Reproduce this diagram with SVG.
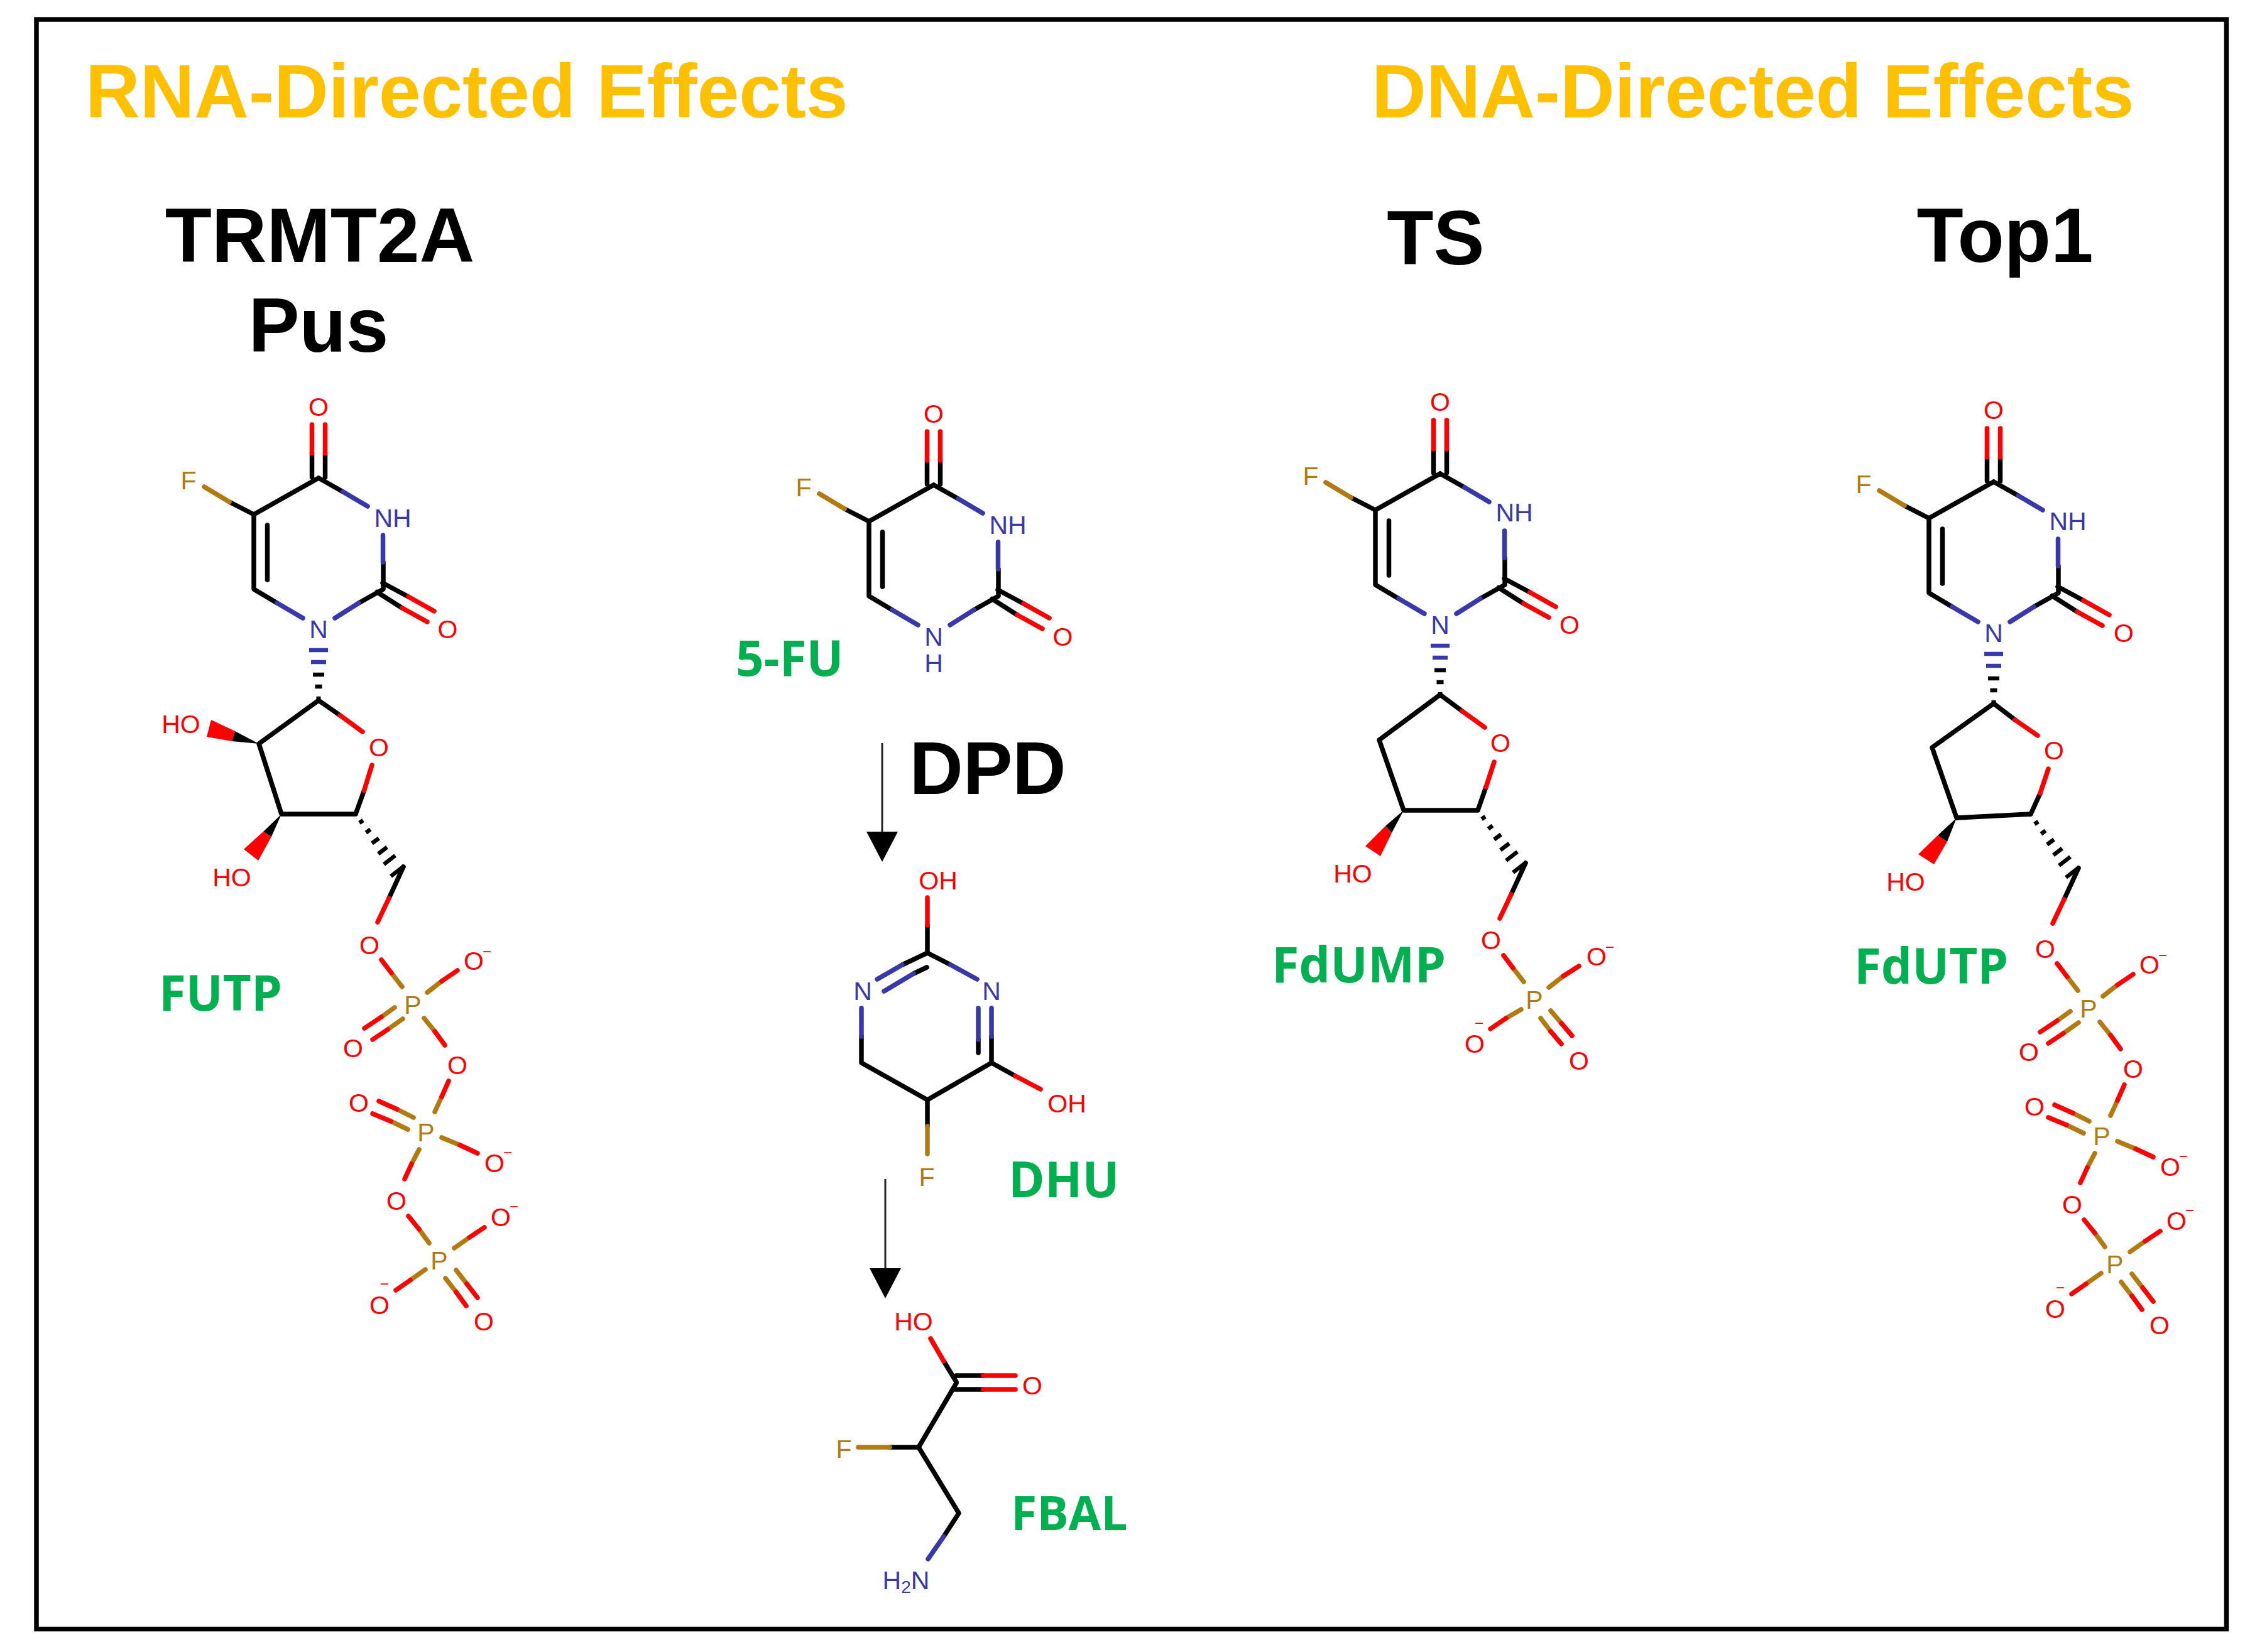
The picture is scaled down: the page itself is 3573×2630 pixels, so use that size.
<svg xmlns="http://www.w3.org/2000/svg" width="3573" height="2630" viewBox="0 0 3573 2630">
<style>
text{font-family:"Liberation Sans",Arial,sans-serif}
.a{font-size:41px;text-anchor:middle}
.m{font-size:24px;text-anchor:middle;fill:#f00}
.r{fill:#f00}.n{fill:#3838a8}.f{fill:#b27b12}
.t{font-size:121.5px;font-weight:700;fill:#000;text-anchor:middle}
.h{font-size:120px;font-weight:700;fill:#ffc000}
.g{font-family:"Open Sans",sans-serif;font-size:78px;font-weight:700;fill:#00b050}
.s{fill:none;stroke-width:7.5;stroke-linecap:round;stroke-linejoin:round}
.bk{stroke:#000}.rd{stroke:#f00}.bl{stroke:#3838a8}.br{stroke:#b27b12}
.hs{fill:none;stroke-width:6.5}
.ar{fill:none;stroke:#222;stroke-width:3}
</style>
<defs>
<marker id="head" markerUnits="userSpaceOnUse" markerWidth="50" markerHeight="52" refX="0" refY="26" orient="auto"><path d="M0,1L48,26L0,51Z" fill="#000"/></marker>
<g id="uracil-bonds">
<path class="s bk" d="M-10.5,-1V-39M10.5,-1V-39M0,0L-103,58V177L-66,199M-81.5,75V162M-103,58L-142,38M0,0L39,22M64,199L103,177V134M102,167L143,189M93,181.5L133,207"/>
<path class="s rd" d="M-10.5,-39V-85M10.5,-39V-85M143,189L184,212M133,207L173,229"/>
<path class="s bl" d="M39,22L78,45M102.5,134V91M-66,199L-25,223M26,223L64,199"/>
<path class="s br" d="M-142,38L-182,14"/>
</g>
<g id="n-hash">
<path class="hs bl" d="M-15,274H15M-12,293H12"/>
<path class="hs bk" d="M-9,313H9M-5.5,332H5.5M-3.5,351H3.5"/>
</g>
<g id="c5-hash">
<path class="hs bk" d="M6,14L12,10M16.5,29.6L23.5,24.4M26,46.5L37,38.5M36,63.4L50,52.6M45,80L63,66M56,99L78,82"/>
<path class="s bk" d="M76,84L53,134"/>
<path class="s rd" d="M53,134L35,172"/>
</g>
<g id="triphosphate-bonds">
<path class="s br" d="M640,1571L623,1549M680,1580L703,1562M628,1604L607,1619M641,1622L617,1639M675,1621L692,1642M692,1770L703,1746M658,1779L632,1766M649,1798L622,1785M703,1811L732,1823M667,1830L655,1853M683,1979L667,1957M723,1987L747,1970M677,2021L653,2038M726,2022L743,2044M709,2035L726,2057"/>
<path class="s rd" d="M623,1549L607,1528M703,1562L728,1545M607,1619L580,1637M617,1639L593,1655M692,1642L708,1664M703,1746L714,1721M632,1766L603,1753M622,1785L593,1773M732,1823L760,1836M655,1853L644,1877M667,1957L650,1936M747,1970L771,1954M653,2038L630,2054M743,2044L760,2066M726,2057L742,2079"/>
</g>
</defs>
<rect width="3573" height="2630" fill="#fff"/>
<rect id="frame" x="58" y="31" width="3485.5" height="2562.5" fill="none" stroke="#000" stroke-width="7.5"/>
<g id="titles">
<text id="title-rna" class="h" x="136" y="187">RNA-Directed Effects</text>
<text id="title-dna" class="h" x="2183" y="187">DNA-Directed Effects</text>
<text id="enzyme-trmt2a" class="t" x="509" y="417">TRMT2A</text>
<text id="enzyme-pus" class="t" x="507" y="560">Pus</text>
<text id="enzyme-ts" class="t" x="2285" y="421">TS</text>
<text id="enzyme-top1" class="t" x="3191" y="417">Top1</text>
<text id="enzyme-dpd" class="t" x="1572" y="1264" style="font-size:118px">DPD</text>
</g>
<g id="connectors">
<line class="ar" x1="1404" y1="1183" x2="1404" y2="1324" marker-end="url(#head)"/>
<line class="ar" x1="1409" y1="1877" x2="1409" y2="2019" marker-end="url(#head)"/>
</g>
<g id="FUTP">
<g transform="translate(507,761)">
<use href="#uracil-bonds"/><use href="#n-hash"/>
<text class="a r" x="0" y="-99">O</text><text class="a f" x="-207" y="18">F</text><text class="a n" x="118" y="78">NH</text><text class="a n" x="0" y="255">N</text><text class="a r" x="205.5" y="255">O</text>
</g>
<path class="s bk" d="M507,1115L412,1184L448,1296H566M507,1115L541.5,1139M566,1296L579.5,1258.5"/>
<path class="s rd" d="M541.5,1139L577,1165M579.5,1258.5L592,1218"/>
<path d="M412,1184L374,1164L369,1180Z" fill="#000"/><path d="M374,1164L336,1146L329,1173L369,1180Z" fill="#f00"/>
<path d="M448,1296L419,1324L432,1332Z" fill="#000"/><path d="M419,1324L388,1352L411,1370L432,1332Z" fill="#f00"/>
<use href="#c5-hash" transform="translate(566,1296)"/>
<use href="#triphosphate-bonds"/>
<text class="a r" x="603" y="1204">O</text><text class="a r" x="288" y="1167">HO</text><text class="a r" x="369" y="1411">HO</text>
<text class="a r" x="588" y="1519">O</text><text class="a r" x="754" y="1544">O</text><text class="m" x="775" y="1523">−</text><text class="a f" x="657" y="1614">P</text><text class="a r" x="562" y="1683">O</text>
<text class="a r" x="728" y="1710">O</text><text class="a f" x="678" y="1817">P</text><text class="a r" x="571" y="1770">O</text><text class="a r" x="787" y="1866">O</text><text class="m" x="808" y="1843">−</text>
<text class="a r" x="631" y="1926">O</text><text class="a f" x="699" y="2021">P</text><text class="a r" x="797" y="1952">O</text><text class="m" x="818" y="1929">−</text><text class="a r" x="604" y="2092">O</text><text class="m" x="612" y="2052">−</text><text class="a r" x="770" y="2118">O</text>
<text class="g" x="253" y="1609">FUTP</text>
</g>
<g id="FU5">
<g transform="translate(1486,772)">
<use href="#uracil-bonds"/>
<text class="a r" x="0" y="-99">O</text><text class="a f" x="-207" y="18">F</text><text class="a n" x="118" y="78">NH</text><text class="a n" x="0" y="256">N</text><text class="a n" x="0" y="298">H</text><text class="a r" x="205.5" y="256">O</text>
</g>
<text class="g" x="1171" y="1076">5-FU</text>
</g>
<g id="DHU">
<g transform="translate(-3,-2)">
<path class="s bk" d="M1479,1475V1519L1439,1538M1457,1552L1478,1542M1479,1519L1516,1538M1374,1652V1694L1479,1753L1581,1694V1652M1560,1657V1678M1581,1694L1619,1715M1479,1753V1795"/>
<path class="s rd" d="M1479,1475V1431M1619,1715L1659,1736"/>
<path class="s bl" d="M1439,1538L1399,1561M1457,1552L1410,1580M1516,1538L1558,1561M1374,1652V1607M1581,1652V1607M1560,1657V1607"/>
<path class="s br" d="M1479,1795V1839"/>
<text class="a r" x="1496" y="1418">OH</text><text class="a n" x="1376" y="1594">N</text><text class="a n" x="1581" y="1594">N</text><text class="a r" x="1701" y="1773">OH</text><text class="a f" x="1478" y="1890">F</text>
</g>
<text class="g" x="1605" y="1906">DHU</text>
</g>
<g id="FBAL">
<g transform="translate(-3,-4)">
<path class="s bk" d="M1505,2171L1525,2204M1525,2194H1568M1520,2216H1568M1525,2206L1465,2308L1529,2413L1505,2450M1465,2308H1419"/>
<path class="s rd" d="M1505,2171L1484,2135M1568,2194H1619M1568,2216H1619"/>
<path class="s br" d="M1419,2308H1369"/>
<path class="s bl" d="M1505,2450L1480,2486"/>
<text class="a r" x="1457" y="2122">HO</text><text class="a r" x="1646" y="2224">O</text><text class="a f" x="1346" y="2325">F</text><text class="a n" x="1445" y="2534">H<tspan font-size="28" dy="6">2</tspan><tspan dy="-6">N</tspan></text>
</g>
<text class="g" x="1609" y="2436" style="font-size:75px">FBAL</text>
</g>
<g id="FdUMP">
<g transform="translate(2292,754)">
<use href="#uracil-bonds"/><use href="#n-hash"/>
<text class="a r" x="0" y="-100">O</text><text class="a f" x="-206" y="18">F</text><text class="a n" x="118" y="76">NH</text><text class="a n" x="0" y="255">N</text><text class="a r" x="206" y="255">O</text>
</g>
<path class="s bk" d="M2292,1106L2195,1178L2234,1290H2352M2292,1106L2327,1132M2352,1290L2365,1253"/>
<path class="s rd" d="M2327,1132L2363,1158M2365,1253L2378,1213"/>
<path d="M2234,1290L2205,1315L2215,1326Z" fill="#000"/><path d="M2205,1315L2173,1347L2197,1363L2215,1326Z" fill="#f00"/>
<use href="#c5-hash" transform="translate(2352,1290)"/>
<path class="s br" d="M2425,1563L2408,1541M2465,1572L2488,1554M2468,1609L2485,1629M2452,1621L2468,1642M2421,1607L2397,1621"/>
<path class="s rd" d="M2408,1541L2393,1521M2488,1554L2513,1538M2485,1629L2502,1649M2468,1642L2485,1662M2397,1621L2372,1638"/>
<text class="a r" x="2388" y="1197">O</text><text class="a r" x="2153" y="1405">HO</text><text class="a r" x="2373" y="1511">O</text><text class="a f" x="2442" y="1606">P</text><text class="a r" x="2541" y="1537">O</text><text class="m" x="2562" y="1516">−</text><text class="a r" x="2513" y="1703">O</text><text class="a r" x="2347" y="1676">O</text><text class="m" x="2354" y="1637">−</text>
<text class="g" x="2024" y="1564" style="font-size:79px">FdUMP</text>
</g>
<g id="FdUTP">
<g transform="translate(3173,767)">
<use href="#uracil-bonds"/><use href="#n-hash"/>
<text class="a r" x="0" y="-100">O</text><text class="a f" x="-207" y="18">F</text><text class="a n" x="118" y="77">NH</text><text class="a n" x="0" y="255">N</text><text class="a r" x="207" y="255">O</text>
</g>
<g transform="translate(2664,6)">
<path class="s bk" d="M509,1114L411,1184L450,1296L568,1290M509,1114L543,1140M568,1290L583,1257"/>
<path class="s rd" d="M543,1140L579,1165M583,1257L596,1218"/>
<path d="M450,1296L420,1324L435,1334Z" fill="#000"/><path d="M420,1324L389,1354L414,1370L435,1334Z" fill="#f00"/>
<use href="#c5-hash" transform="translate(568,1292)"/>
<text class="a r" x="605" y="1203">O</text><text class="a r" x="369" y="1412">HO</text>
</g>
<g transform="translate(2667,6)">
<use href="#triphosphate-bonds"/>
<text class="a r" x="588" y="1519">O</text><text class="a r" x="754" y="1544">O</text><text class="m" x="775" y="1523">−</text><text class="a f" x="657" y="1614">P</text><text class="a r" x="562" y="1683">O</text>
<text class="a r" x="728" y="1710">O</text><text class="a f" x="678" y="1817">P</text><text class="a r" x="571" y="1770">O</text><text class="a r" x="787" y="1866">O</text><text class="m" x="808" y="1843">−</text>
<text class="a r" x="631" y="1926">O</text><text class="a f" x="699" y="2021">P</text><text class="a r" x="797" y="1952">O</text><text class="m" x="818" y="1929">−</text><text class="a r" x="604" y="2092">O</text><text class="m" x="612" y="2052">−</text><text class="a r" x="770" y="2118">O</text>
</g>
<text class="g" x="2951" y="1566">FdUTP</text>
</g>
</svg>
